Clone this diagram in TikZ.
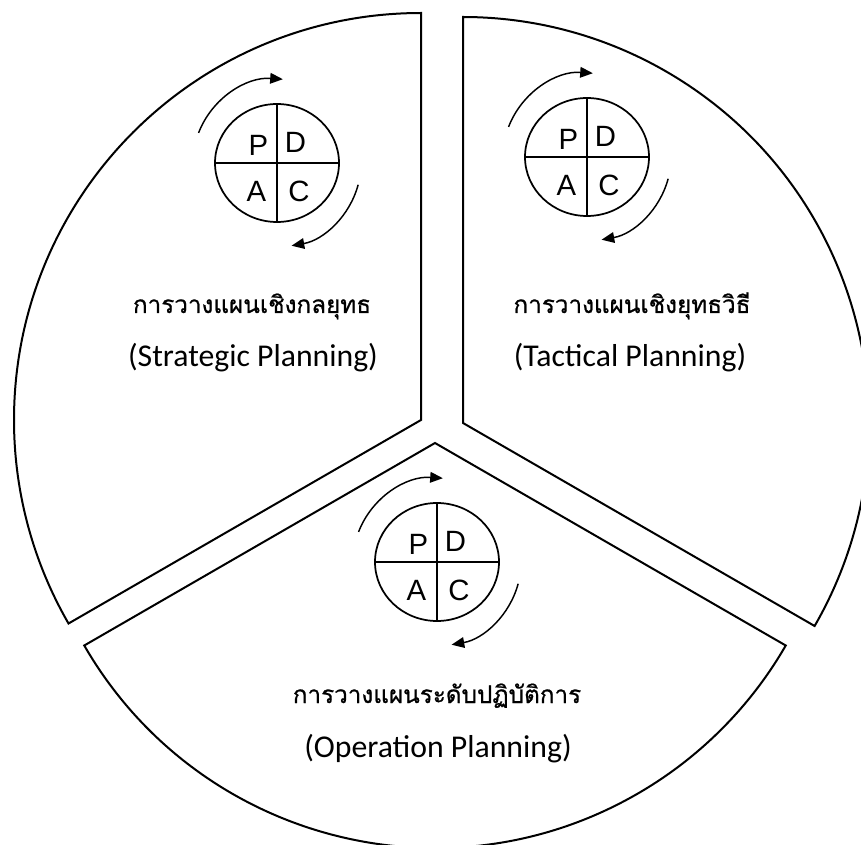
\documentclass[tikz,border=0pt]{standalone}
\usepackage{fontspec}
\setmainfont{Carlito}
\newfontfamily\thaifont[Script=Thai,FakeBold=0.8]{Loma}
\newfontfamily\pdcafont{Liberation Sans}
\usetikzlibrary{shapes.geometric,arrows.meta,calc}
\begin{document}
\begin{tikzpicture}[x=0.75pt,y=0.75pt,
  sector/.style={draw=black, line width=1.5pt, line join=miter},
  cyclebox/.style={ellipse, draw, line width=1.3pt, minimum width=93pt,
    minimum height=88.5pt, inner sep=0pt},
  divider/.style={line width=0.8pt},
  letter/.style={font=\pdcafont\fontsize{22}{22}\selectfont, inner sep=0pt},
  turn/.style={line width=1.1pt, -{Triangle[length=9.5pt,width=8pt]}},
  thaititle/.style={font=\thaifont\fontsize{18.2}{22}\selectfont, inner sep=0pt, anchor=base},
  entitle/.style={font=\fontsize{23.8}{28}\selectfont, inner sep=0pt, anchor=base}]
\useasboundingbox (0,0) rectangle (861,844);
\clip (0,0) rectangle (861,844);

% three pie sectors
\coordinate (apexL) at (421,424);
\coordinate (apexR) at (463,421);
\coordinate (apexB) at (435,401);
\draw[sector] (apexL) -- ++(90:407) arc[start angle=90, end angle=210, radius=407] -- cycle;
\draw[sector] (apexR) -- ++(-30:406) arc[start angle=-30, end angle=90, radius=406] -- cycle;
\draw[sector] (apexB) -- ++(210:405) arc[start angle=210, end angle=330, radius=405] -- cycle;

% PDCA cycle: ellipse, quarters, letters and turning arrows
\newcommand{\pdcacycle}[2]{%
  \node[cyclebox] (#1) at (#2) {};
  \draw[divider] (#1.north) -- (#1.south);
  \draw[divider] (#1.west) -- (#1.east);
  \node[letter] (#1P) at ($(#1)+(-18.5,18)$) {P};
  \node[letter] (#1D) at ($(#1)+(18.5,20.5)$) {D};
  \node[letter] (#1A) at ($(#1)+(-20.5,-28.5)$) {A};
  \node[letter] (#1C) at ($(#1)+(22,-28.5)$) {C};
  \draw[turn] ([shift={(159:84)}]#1.center) arc[start angle=159, end angle=86, radius=84];
  \draw[turn] ([shift={(-15:84)}]#1.center) arc[start angle=-15, end angle=-80, radius=84];
}
\pdcacycle{cycL}{277,681}
\pdcacycle{cycR}{587,687}
\pdcacycle{cycB}{437,282}

% sector titles
\node[thaititle] (thL) at (252,531) {การวางแผนเชิงกลยุทธ};
\node[entitle] (enL) at (253,477) {(Strategic Planning)};
\node[thaititle] (thR) at (632,531) {การวางแผนเชิงยุทธวิธี};
\node[entitle] (enR) at (630,477) {(Tactical Planning)};
\node[thaititle] (thB) at (437,141) {การวางแผนระดับปฏิบัติการ};
\node[entitle] (enB) at (438,87) {(Operation Planning)};
\end{tikzpicture}
\end{document}
